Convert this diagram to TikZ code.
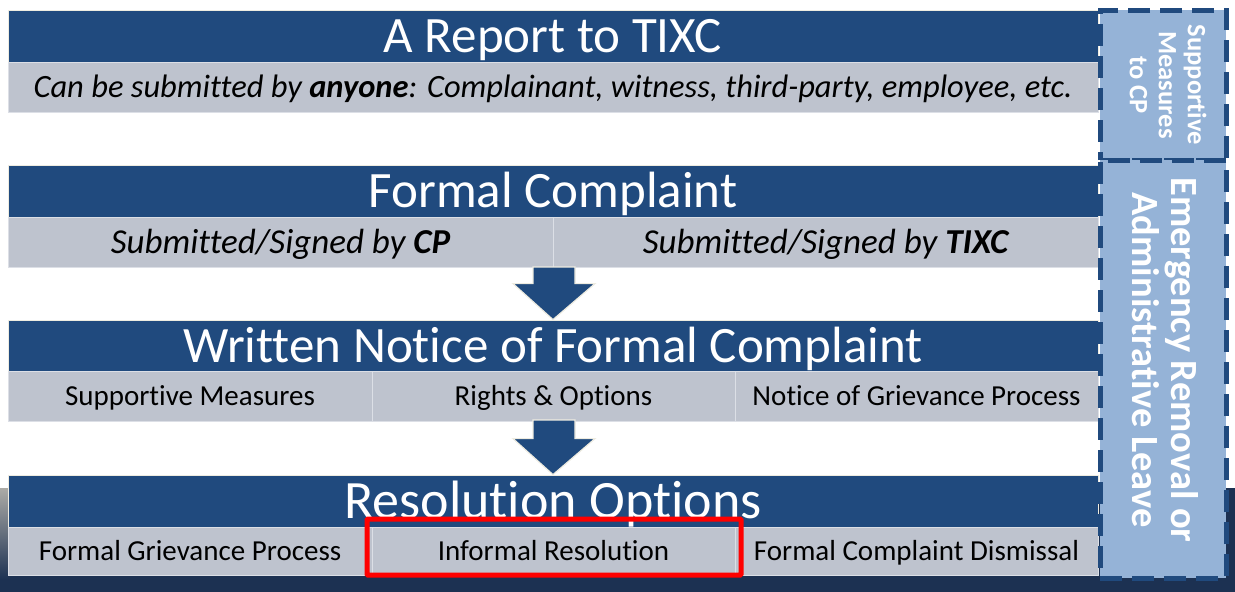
\documentclass[tikz,border=0pt]{standalone}
\usepackage{fontspec}
\setmainfont{Carlito}[Ligatures=NoCommon]
\usetikzlibrary{calc}
\definecolor{hdrblue}{HTML}{204A7E}
\definecolor{subgray}{HTML}{BEC3CE}
\definecolor{sideblue}{HTML}{95B3D7}
\definecolor{bandnavy}{HTML}{1C3152}
\definecolor{cream}{HTML}{EEECE1}
\definecolor{cellline}{HTML}{DCDFE6}
\tikzset{
  hdr/.style={fill=hdrblue, draw=cream, line width=0.8pt, text=white, inner sep=0pt,
    minimum width=1090pt, minimum height=52pt, text height=33pt, text depth=0pt,
    font=\fontsize{51}{55}\selectfont},
  subcell/.style={fill=subgray, draw=cellline, line width=0.8pt, text=black, inner sep=0pt,
    minimum height=50pt, text height=18.7pt, text depth=0pt,
    font=\fontsize{29}{32}\selectfont},
  sidebox/.style={fill=sideblue, draw=hdrblue, line width=5pt,
    dash pattern=on 22pt off 10pt, inner sep=0pt, minimum width=126pt},
  sidetext/.style={text=white, rotate=-90, align=center, font=\bfseries},
  arrowsty/.style={fill=hdrblue, draw=cream, line width=1.2pt, line join=miter},
  redframe/.style={draw=red, line width=5pt, rounded corners=1pt}
}
\newcommand{\blkarrow}[2]{%
  \path[arrowsty] let \p1=(#1), \p2=(#2) in
    (\x1-21pt,\y1) -- (\x1+21pt,\y1) -- (\x1+21pt,\y2+36pt) -- (\x1+41pt,\y2+36pt)
    -- (\x2,\y2) -- (\x1-41pt,\y2+36pt) -- (\x1-21pt,\y2+36pt) -- cycle;}
\begin{document}
\begin{tikzpicture}[x=1pt,y=-1pt]
\useasboundingbox (0,0) rectangle (1235,592);
% background band
\fill[bandnavy] (0,488) rectangle (1235,592);
\shade[top color=cream!40!gray, bottom color=bandnavy] (0,488) rectangle (10,580);

% Row 1
\node[hdr] (h1) at (553,36) {A Report to TIXC};
\node[subcell, minimum width=1090pt, text height=21pt, font=\fontsize{32.5}{36}\selectfont] (s1) at (553,87)
  {\itshape Can be submitted by \textbf{anyone}: Complainant, witness, third-party, employee, etc.};

% Row 2
\node[hdr] (h2) at (553,191) {Formal Complaint};
\node[subcell, minimum width=545pt, text height=22.5pt, font=\fontsize{35}{38}\selectfont] (s2a) at (280.5,242) {\itshape Submitted/Signed by \textbf{CP}};
\node[subcell, minimum width=545pt, text height=22.5pt, font=\fontsize{35}{38}\selectfont] (s2b) at (825.5,242) {\itshape Submitted/Signed by \textbf{TIXC}};

% Row 3
\node[hdr] (h3) at (553,346) {Written Notice of Formal Complaint};
\node[subcell, minimum width=364pt] (s3a) at (190,396) {Supportive Measures};
\node[subcell, minimum width=363pt] (s3b) at (553.5,396) {Rights \& Options};
\node[subcell, minimum width=363pt] (s3c) at (916.5,396) {Notice of Grievance Process};

% Row 4
\node[hdr, text height=35pt, font=\fontsize{54}{58}\selectfont] (h4) at (553,501) {Resolution Options};
\node[subcell, minimum width=364pt, minimum height=48pt] (s4a) at (190,551) {Formal Grievance Process};
\node[subcell, minimum width=363pt, minimum height=48pt] (s4b) at (553.5,551) {Informal Resolution};
\node[subcell, minimum width=363pt, minimum height=48pt] (s4c) at (916.5,551) {Formal Complaint Dismissal};
\draw[redframe] (367,519) rectangle (741,575);

% arrows
\coordinate (a1s) at (554,267);
\coordinate (a2s) at (554,420);
\blkarrow{a1s}{h3.north}
\blkarrow{a2s}{h4.north}

% side boxes
\node[sidebox, minimum height=150pt] (sb1) at (1163,85) {};
\node[sidetext, font=\bfseries\fontsize{26.5}{29}\selectfont] (st1) at (1168,85) {Supportive\\Measures\\to CP};
\node[sidebox, minimum height=418pt] (sb2) at (1163,369) {};
\node[sidetext, font=\bfseries\fontsize{38.5}{39}\selectfont] (st2) at (1165,360) {Emergency Removal or\\Administrative Leave};
\end{tikzpicture}
\end{document}
